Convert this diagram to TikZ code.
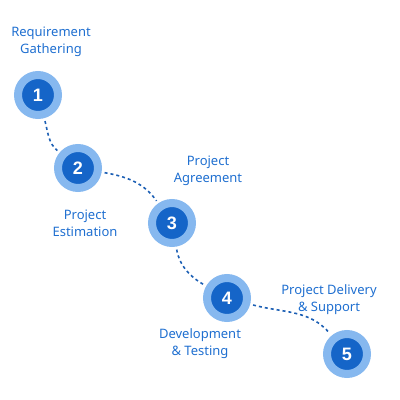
\documentclass[tikz,border=0pt]{standalone}
\usepackage{fontspec}
\setmainfont{Noto Sans}
\newfontfamily\digitfont{Liberation Sans}
\definecolor{ringblue}{HTML}{86B8EF}
\definecolor{coreblue}{HTML}{1565C8}
\definecolor{labelblue}{HTML}{1F6FD0}
\definecolor{trailblue}{HTML}{1C5FB4}
\tikzset{stepdot/.style={circle,fill=coreblue,draw=ringblue,line width=8pt,
   minimum size=40pt,inner sep=0pt,text=white,font=\digitfont\fontsize{18}{18}\selectfont\bfseries},
 steplabel/.style={align=center,text=labelblue,font=\fontsize{13}{17}\selectfont},
 trail/.style={draw=trailblue,line width=1.6pt,dash pattern=on 3pt off 3pt,
   shorten <=3pt,shorten >=3pt},
 }

\begin{document}
\begin{tikzpicture}[x=1pt,y=1pt]
    \useasboundingbox (0,0) rectangle (400,400);
        \node[stepdot] (s1) at (38,305) {1};
        \node[stepdot] (s2) at (78,232) {2};
        \node[stepdot] (s3) at (172,177) {3};
        \node[stepdot] (s4) at (227,102) {4};
        \node[stepdot] (s5) at (347,46) {5};
        \node[steplabel] (l1) at (51,358) {Requirement\\Gathering};
        \node[steplabel] (l2) at (85,177) {Project\\Estimation};
        \node[steplabel] (l3) at (208,229) {Project\\Agreement};
        \node[steplabel] (l4) at (200,56) {Development\\\& Testing};
        \node[steplabel] (l5) at (329,100) {Project Delivery\\\& Support};
        \draw[trail] (s1) to[out=-75,in=140] (s2);
        \draw[trail] (s2) to[out=-10,in=125] (s3);
        \draw[trail] (s3) to[out=-80,in=150] (s4);
        \draw[trail] (s4) to[out=-15,in=130] (s5);
    \end{tikzpicture}
\end{document}
